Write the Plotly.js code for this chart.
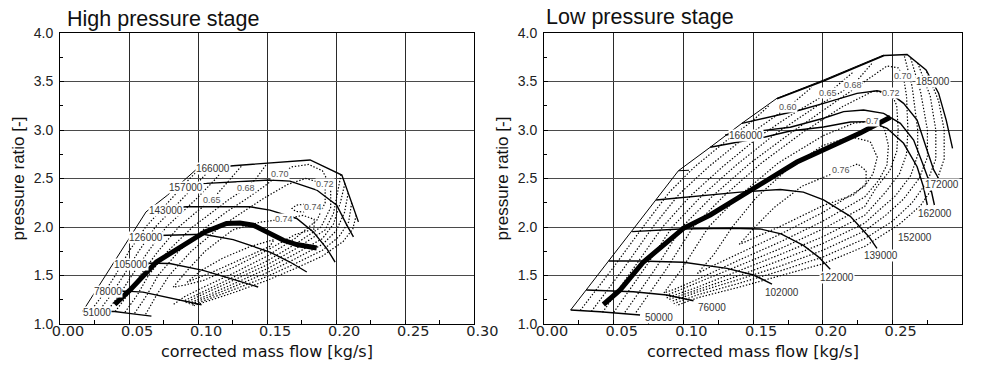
<!DOCTYPE html>
<html>
<head>
<meta charset="utf-8">
<script src="https://cdn.plot.ly/plotly-3.0.1.min.js"></script>
<style>html,body{margin:0;padding:0;background:#fff;}#chart{width:982px;height:365px;}</style>
</head>
<body>
<div id="chart"></div>
<script>
// ================= HIGH PRESSURE STAGE (left) =================
const hpSurge = [[0.0165,1.132],[0.0623,2.156],[0.0779,2.329],[0.0988,2.595]];
const hpSpeed166000 = [[0.0988,2.595],[0.1254,2.632],[0.1811,2.691],[0.2041,2.536],[0.2161,2.053]];
const hpSpeed157000 = [[0.0874,2.443],[0.1061,2.450],[0.1520,2.484],[0.1665,2.473],[0.1859,2.381],[0.2004,2.225],[0.2077,2.019],[0.2125,1.898]];
const hpSpeed143000 = [[0.0657,2.184],[0.0916,2.208],[0.1375,2.208],[0.1520,2.174],[0.1714,2.088],[0.1835,1.949],[0.1932,1.778],[0.1992,1.639]];
const hpSpeed126000 = [[0.0512,1.905],[0.0771,1.912],[0.1036,1.925],[0.1254,1.870],[0.1520,1.742],[0.1665,1.639],[0.1787,1.536]];
const hpSpeed105000 = [[0.0387,1.626],[0.0601,1.629],[0.0795,1.623],[0.1036,1.553],[0.1279,1.450],[0.1435,1.381]];
const hpSpeed78000  = [[0.0257,1.336],[0.0480,1.339],[0.0601,1.329],[0.0771,1.277],[0.1025,1.199]];
const hpSpeed51000  = [[0.0165,1.132],[0.0396,1.129],[0.0528,1.105],[0.0662,1.081]];
const hpOperating = [[0.0396,1.202],[0.0504,1.346],[0.0698,1.639],[0.0891,1.812],[0.1049,1.949],[0.1206,2.036],[0.1303,2.042],[0.1399,2.019],[0.1520,1.933],[0.1617,1.863],[0.1714,1.819],[0.1859,1.784]];

const hpEffA_L = [[0.022,1.13],[0.031,1.30],[0.040,1.50],[0.050,1.75],[0.062,2.00],[0.080,2.28],[0.094,2.50],[0.101,2.597]];
const hpEffA_R = [[0.2145,2.12],[0.212,1.98],[0.205,1.85],[0.190,1.70],[0.170,1.57],[0.150,1.45],[0.125,1.32],[0.105,1.225],[0.097,1.19]];
const hpEffB_L = [[0.028,1.13],[0.037,1.30],[0.046,1.50],[0.057,1.75],[0.069,2.00],[0.088,2.28],[0.103,2.50],[0.110,2.61]];
const hpEffB_R = [[0.2112,2.25],[0.209,2.05],[0.202,1.90],[0.190,1.76],[0.170,1.62],[0.150,1.49],[0.125,1.35],[0.105,1.24],[0.095,1.19]];
const hpEffC_L = [[0.034,1.13],[0.043,1.30],[0.052,1.50],[0.064,1.75],[0.077,2.00],[0.098,2.28],[0.113,2.50],[0.120,2.625]];
const hpEffC_R = [[0.2087,2.35],[0.206,2.15],[0.200,1.96],[0.190,1.82],[0.170,1.67],[0.150,1.53],[0.125,1.38],[0.104,1.26],[0.094,1.20]];
const hpEff65_L = [[0.040,1.128],[0.049,1.30],[0.058,1.50],[0.071,1.75],[0.086,2.00],[0.100,2.17],[0.110,2.277],[0.124,2.50],[0.132,2.638]];
const hpEff65_R = [[0.2063,2.45],[0.203,2.25],[0.198,2.03],[0.190,1.88],[0.170,1.72],[0.150,1.57],[0.125,1.41],[0.104,1.28],[0.093,1.21]];
const hpEff68_L = [[0.047,1.12],[0.056,1.30],[0.064,1.50],[0.078,1.75],[0.096,2.00],[0.110,2.15],[0.122,2.28],[0.135,2.40],[0.142,2.50],[0.150,2.655]];
const hpEff68_R = [[0.2035,2.54],[0.201,2.35],[0.198,2.14],[0.192,1.97],[0.170,1.77],[0.150,1.61],[0.125,1.45],[0.104,1.31],[0.091,1.22]];
const hpEff70 = [[0.054,1.11],[0.063,1.30],[0.071,1.50],[0.086,1.75],[0.106,2.00],[0.120,2.15],[0.134,2.28],[0.148,2.42],[0.159,2.546],[0.168,2.62],[0.180,2.645],[0.190,2.58],[0.196,2.42],[0.196,2.20],[0.189,2.00],[0.170,1.82],[0.150,1.65],[0.125,1.48],[0.104,1.34],[0.090,1.24]];
const hpEff72 = [[0.062,1.10],[0.070,1.30],[0.079,1.50],[0.095,1.75],[0.116,2.00],[0.132,2.15],[0.148,2.30],[0.165,2.44],[0.178,2.50],[0.192,2.443],[0.192,2.25],[0.186,2.07],[0.170,1.88],[0.150,1.70],[0.125,1.52],[0.104,1.38],[0.090,1.28],[0.082,1.20]];
const hpEff74 = [[0.082,1.38],[0.092,1.55],[0.105,1.75],[0.125,1.97],[0.145,2.05],[0.162,2.081],[0.176,2.12],[0.184,2.08],[0.184,1.98],[0.170,1.92],[0.150,1.76],[0.125,1.58],[0.104,1.45],[0.090,1.40],[0.082,1.38]];
const hpEff74s = [[0.177,2.235],[0.171,2.225],[0.168,2.19],[0.171,2.16],[0.177,2.155]];
const hpEff75 = [[0.092,1.43],[0.102,1.55],[0.118,1.68],[0.138,1.80],[0.155,1.87],[0.152,1.80],[0.130,1.66],[0.108,1.52],[0.097,1.46],[0.092,1.43]];

const hpSpeedLabelText = ['166000','157000','143000','126000','105000','78000','51000'];
const hpSpeedLabelPos  = [[0.1107,2.598],[0.0914,2.412],[0.0769,2.166],[0.0624,1.887],[0.0512,1.615],[0.0345,1.330],[0.0269,1.122]];
const hpEffLabelText = ['0.65','0.68','0.70','0.72','0.74','0.74'];
const hpEffLabelPos  = [[0.110,2.277],[0.135,2.40],[0.159,2.546],[0.192,2.443],[0.183,2.205],[0.162,2.081]];

// ================= LOW PRESSURE STAGE (right) =================
const lpSurge = [[0.0191,1.144],[0.0749,2.175],[0.0964,2.580],[0.1192,2.822],[0.1419,3.069],[0.1671,3.327],[0.2005,3.515],[0.2436,3.773]];
const lpSurgeStub = [[0.0964,2.580],[0.1040,2.585]];
const lpSpeed185000 = [[0.1671,3.322],[0.2005,3.505],[0.2440,3.768],[0.2604,3.778],[0.2740,3.620],[0.2830,3.380],[0.2885,3.100],[0.2930,2.810]];
const lpSpeed172000 = [[0.1419,3.069],[0.1838,3.206],[0.2005,3.275],[0.2245,3.378],[0.2388,3.405],[0.2484,3.378],[0.2579,3.275],[0.2676,3.103],[0.2747,2.794],[0.2795,2.588],[0.2828,2.505]];
const lpSpeed162000 = [[0.1299,2.948],[0.1766,3.028],[0.2005,3.121],[0.2149,3.189],[0.2292,3.206],[0.2436,3.172],[0.2556,3.069],[0.2651,2.897],[0.2714,2.660],[0.2764,2.464],[0.2800,2.227]];
const lpSpeed152000 = [[0.1192,2.822],[0.1586,2.928],[0.1766,2.990],[0.2005,3.031],[0.2197,3.082],[0.2340,3.086],[0.2460,3.018],[0.2579,2.863],[0.2676,2.622],[0.2721,2.415],[0.2749,2.227]];
const lpSpeed139000 = [[0.0804,2.278],[0.1120,2.320],[0.1407,2.360],[0.1694,2.387],[0.1860,2.360],[0.2005,2.280],[0.2197,2.110],[0.2330,1.900],[0.2388,1.780]];
const lpSpeed122000 = [[0.0632,1.952],[0.0976,1.979],[0.1335,1.987],[0.1550,1.980],[0.1700,1.930],[0.1860,1.810],[0.1970,1.690],[0.2053,1.565]];
const lpSpeed102000 = [[0.0464,1.649],[0.0689,1.649],[0.1000,1.636],[0.1312,1.574],[0.1503,1.505],[0.1635,1.412]];
const lpSpeed76000  = [[0.0303,1.351],[0.0641,1.333],[0.0881,1.299],[0.1072,1.240]];
const lpSpeed50000  = [[0.0191,1.144],[0.0402,1.127],[0.0689,1.093]];
const lpOperating = [[0.0426,1.201],[0.0546,1.351],[0.0713,1.639],[0.0833,1.784],[0.1000,1.987],[0.1192,2.124],[0.1407,2.312],[0.1622,2.505],[0.1814,2.670],[0.2053,2.828],[0.2268,2.969],[0.2484,3.131]];

const lpEff55_L = [[0.026,1.14],[0.048,1.55],[0.071,2.00],[0.090,2.36],[0.108,2.62],[0.130,2.88],[0.150,3.10],[0.162,3.26]];
const lpEff55_R = [[0.2745,3.60],[0.283,3.30],[0.287,3.00],[0.287,2.70],[0.281,2.45],[0.270,2.22],[0.255,2.03],[0.230,1.80],[0.200,1.62],[0.170,1.50],[0.140,1.38],[0.110,1.27],[0.095,1.19]];
const lpEff60_L = [[0.034,1.13],[0.056,1.55],[0.078,2.00],[0.097,2.34],[0.118,2.62],[0.142,2.90],[0.1752,3.237],[0.192,3.44]];
const lpEff60_R = [[0.268,3.69],[0.277,3.35],[0.281,3.00],[0.281,2.70],[0.275,2.47],[0.264,2.25],[0.250,2.06],[0.230,1.88],[0.200,1.69],[0.170,1.55],[0.140,1.42],[0.110,1.30],[0.093,1.21]];
const lpEff65_L = [[0.042,1.12],[0.063,1.55],[0.085,2.00],[0.105,2.32],[0.128,2.62],[0.155,2.94],[0.180,3.18],[0.2039,3.381],[0.222,3.60]];
const lpEff65_R = [[0.263,3.74],[0.270,3.40],[0.275,3.00],[0.275,2.72],[0.269,2.50],[0.258,2.29],[0.245,2.12],[0.230,1.96],[0.200,1.76],[0.170,1.60],[0.140,1.46],[0.110,1.33],[0.091,1.23]];
const lpEff68_L = [[0.050,1.12],[0.071,1.55],[0.092,2.00],[0.113,2.32],[0.138,2.64],[0.165,2.95],[0.195,3.24],[0.2218,3.464],[0.236,3.70]];
const lpEff68_R = [[0.2585,3.76],[0.264,3.45],[0.268,3.00],[0.268,2.74],[0.263,2.53],[0.252,2.32],[0.240,2.17],[0.230,2.04],[0.200,1.83],[0.170,1.66],[0.140,1.50],[0.110,1.35],[0.089,1.25]];
const lpEff70 = [[0.058,1.12],[0.079,1.55],[0.099,2.00],[0.121,2.32],[0.148,2.66],[0.178,2.98],[0.208,3.28],[0.232,3.52],[0.246,3.66],[0.254,3.64],[0.2577,3.557],[0.260,3.35],[0.261,3.00],[0.260,2.75],[0.255,2.55],[0.245,2.36],[0.230,2.12],[0.200,1.90],[0.170,1.72],[0.140,1.55],[0.110,1.38],[0.088,1.27]];
const lpEff72 = [[0.066,1.12],[0.087,1.55],[0.107,2.00],[0.129,2.32],[0.156,2.66],[0.186,2.98],[0.214,3.24],[0.236,3.40],[0.2491,3.378],[0.253,3.25],[0.254,3.00],[0.253,2.78],[0.248,2.58],[0.238,2.40],[0.230,2.21],[0.200,1.98],[0.170,1.78],[0.140,1.60],[0.110,1.42],[0.087,1.29]];
const lpEff74 = [[0.086,1.32],[0.098,1.55],[0.118,2.00],[0.140,2.32],[0.168,2.66],[0.200,2.94],[0.222,3.07],[0.2355,3.093],[0.244,3.02],[0.247,2.84],[0.246,2.64],[0.240,2.48],[0.230,2.31],[0.200,2.06],[0.170,1.85],[0.140,1.66],[0.110,1.46],[0.094,1.36],[0.086,1.32]];
const lpEff75 = [[0.110,1.52],[0.122,1.72],[0.135,2.00],[0.152,2.30],[0.175,2.60],[0.200,2.84],[0.220,2.93],[0.234,2.88],[0.239,2.72],[0.236,2.55],[0.230,2.42],[0.200,2.15],[0.170,1.93],[0.140,1.73],[0.118,1.58],[0.110,1.52]];
const lpEff76 = [[0.140,1.82],[0.150,1.98],[0.165,2.20],[0.185,2.42],[0.2132,2.588],[0.225,2.65],[0.231,2.58],[0.231,2.45],[0.222,2.33],[0.200,2.22],[0.170,2.01],[0.150,1.88],[0.140,1.82]];

const lpSpeedLabelText = ['185000','172000','162000','152000','139000','122000','102000','76000','50000','166000'];
const lpSpeedLabelPos  = [[0.2793,3.495],[0.2857,2.443],[0.2807,2.141],[0.2663,1.894],[0.2419,1.704],[0.2100,1.477],[0.1705,1.323],[0.1206,1.175],[0.0822,1.062],[0.1450,2.948]];
const lpEffLabelText = ['0.60','0.65','0.68','0.70','0.72','0.7','0.76'];
const lpEffLabelPos  = [[0.1752,3.237],[0.2039,3.381],[0.2218,3.464],[0.2577,3.557],[0.2491,3.378],[0.2355,3.093],[0.2132,2.588]];

// ================= BUILD =================
const FONT = 'Liberation Sans, Arial, sans-serif';
const FONTX = 'DejaVu Sans, Liberation Sans, sans-serif';
const DOT = {color:'#000', width:1.2, dash:'1.4px,1.8px'};
const SPEED = {color:'#000', width:1.4};
const SURGE = {color:'#000', width:1};
const OPER = {color:'#000', width:5};

function tr(pts, xa, ya, line){
  return {x: pts.map(p=>p[0]), y: pts.map(p=>p[1]), xaxis: xa, yaxis: ya,
          type:'scatter', mode:'lines', line: line, hoverinfo:'skip', showlegend:false};
}

const traces = [];
[hpEffA_L,hpEffA_R,hpEffB_L,hpEffB_R,hpEffC_L,hpEffC_R,hpEff65_L,hpEff65_R,hpEff68_L,hpEff68_R,hpEff70,hpEff72,hpEff74,hpEff74s,hpEff75]
  .forEach(c=>traces.push(tr(c,'x','y',DOT)));
traces.push(tr(hpSurge,'x','y',SURGE));
[hpSpeed166000,hpSpeed157000,hpSpeed143000,hpSpeed126000,hpSpeed105000,hpSpeed78000,hpSpeed51000]
  .forEach(c=>traces.push(tr(c,'x','y',SPEED)));
traces.push(tr(hpOperating,'x','y',OPER));

[lpEff55_L,lpEff55_R,lpEff60_L,lpEff60_R,lpEff65_L,lpEff65_R,lpEff68_L,lpEff68_R,lpEff70,lpEff72,lpEff74,lpEff75,lpEff76]
  .forEach(c=>traces.push(tr(c,'x2','y2',DOT)));
traces.push(tr(lpSurge,'x2','y2',SURGE));
traces.push(tr(lpSurgeStub,'x2','y2',SURGE));
[lpSpeed185000,lpSpeed172000,lpSpeed162000,lpSpeed152000,lpSpeed139000,lpSpeed122000,lpSpeed102000,lpSpeed76000,lpSpeed50000]
  .forEach(c=>traces.push(tr(c,'x2','y2',SPEED)));
traces.push(tr(lpOperating,'x2','y2',OPER));

const annotations = [];
function lab(texts, pos, xr, yr, size, color){
  texts.forEach((t,i)=>annotations.push({x:pos[i][0], y:pos[i][1], xref:xr, yref:yr, text:t,
    showarrow:false, bgcolor:'#ffffff', borderpad:0, font:{family:FONT, size:size, color:color}}));
}
lab(hpSpeedLabelText, hpSpeedLabelPos, 'x','y', 10, '#333');
lab(hpEffLabelText, hpEffLabelPos, 'x','y', 9, '#555');
lab(lpSpeedLabelText, lpSpeedLabelPos, 'x2','y2', 10, '#333');
lab(lpEffLabelText, lpEffLabelPos, 'x2','y2', 9, '#555');

annotations.push({text:'High pressure stage', xref:'paper', yref:'paper', x:65/982, y:1-19/365,
  xanchor:'left', yanchor:'middle', showarrow:false, font:{family:FONT, size:21.5, color:'#111'}});
annotations.push({text:'Low pressure stage', xref:'paper', yref:'paper', x:544/982, y:1-17/365,
  xanchor:'left', yanchor:'middle', showarrow:false, font:{family:FONT, size:21.5, color:'#111'}});
// x-axis titles placed under each panel
annotations.push({text:'corrected mass flow [kg/s]', xref:'paper', yref:'paper', x:(60+474.3)/2/982, y:1-351.5/365,
  xanchor:'center', yanchor:'middle', showarrow:false, font:{family:FONTX, size:16, color:'#111'}});
annotations.push({text:'corrected mass flow [kg/s]', xref:'paper', yref:'paper', x:(544+962.3)/2/982, y:1-351.5/365,
  xanchor:'center', yanchor:'middle', showarrow:false, font:{family:FONTX, size:16, color:'#111'}});

const yDom = [1-324/365, 1-33/365];
function xax(dom, anchor){
  return {domain: dom, anchor: anchor, range:[0,0.3], dtick:0.05, tick0:0, tickformat:'.2f',
    showgrid:true, gridcolor:'#2a2a2a', gridwidth:1, zeroline:false,
    showline:true, linecolor:'#000', linewidth:1, mirror:true,
    ticks:'inside', ticklen:4, tickcolor:'#000',
    minor:{ticks:'inside', ticklen:4, tickcolor:'#000', dtick:0.025, showgrid:false},
    tickfont:{family:FONTX, size:14.5, color:'#222'}, ticklabelshift:8, ticklabelstandoff:-6,
    fixedrange:true};
}
function yax(anchor){
  return {domain: yDom, range:[1,4], dtick:0.5, tick0:1, tickformat:'.1f', anchor: anchor,
    showgrid:true, gridcolor:'#4a4a4a', gridwidth:1, zeroline:false,
    showline:true, linecolor:'#000', linewidth:1, mirror:true,
    ticks:'inside', ticklen:4, tickcolor:'#000',
    minor:{ticks:'inside', ticklen:3, tickcolor:'#000', dtick:0.25, showgrid:false},
    tickfont:{family:FONT, size:14, color:'#222'}, ticklabelstandoff:3,
    title:{text:'pressure ratio [-]', font:{family:FONT, size:17, color:'#111'}, standoff:4},
    fixedrange:true};
}

const layout = {
  width:982, height:365, margin:{l:0,r:0,t:0,b:0,autoexpand:false},
  paper_bgcolor:'#fff', plot_bgcolor:'#fff', showlegend:false,
  xaxis: xax([60/982, 474.3/982], 'y'), yaxis: yax('x'),
  xaxis2: xax([544/982, 962.3/982], 'y2'), yaxis2: yax('x2'),
  annotations: annotations, font:{family:FONT}
};

Plotly.newPlot('chart', traces, layout, {staticPlot:true, displayModeBar:false});
</script>
</body>
</html>
